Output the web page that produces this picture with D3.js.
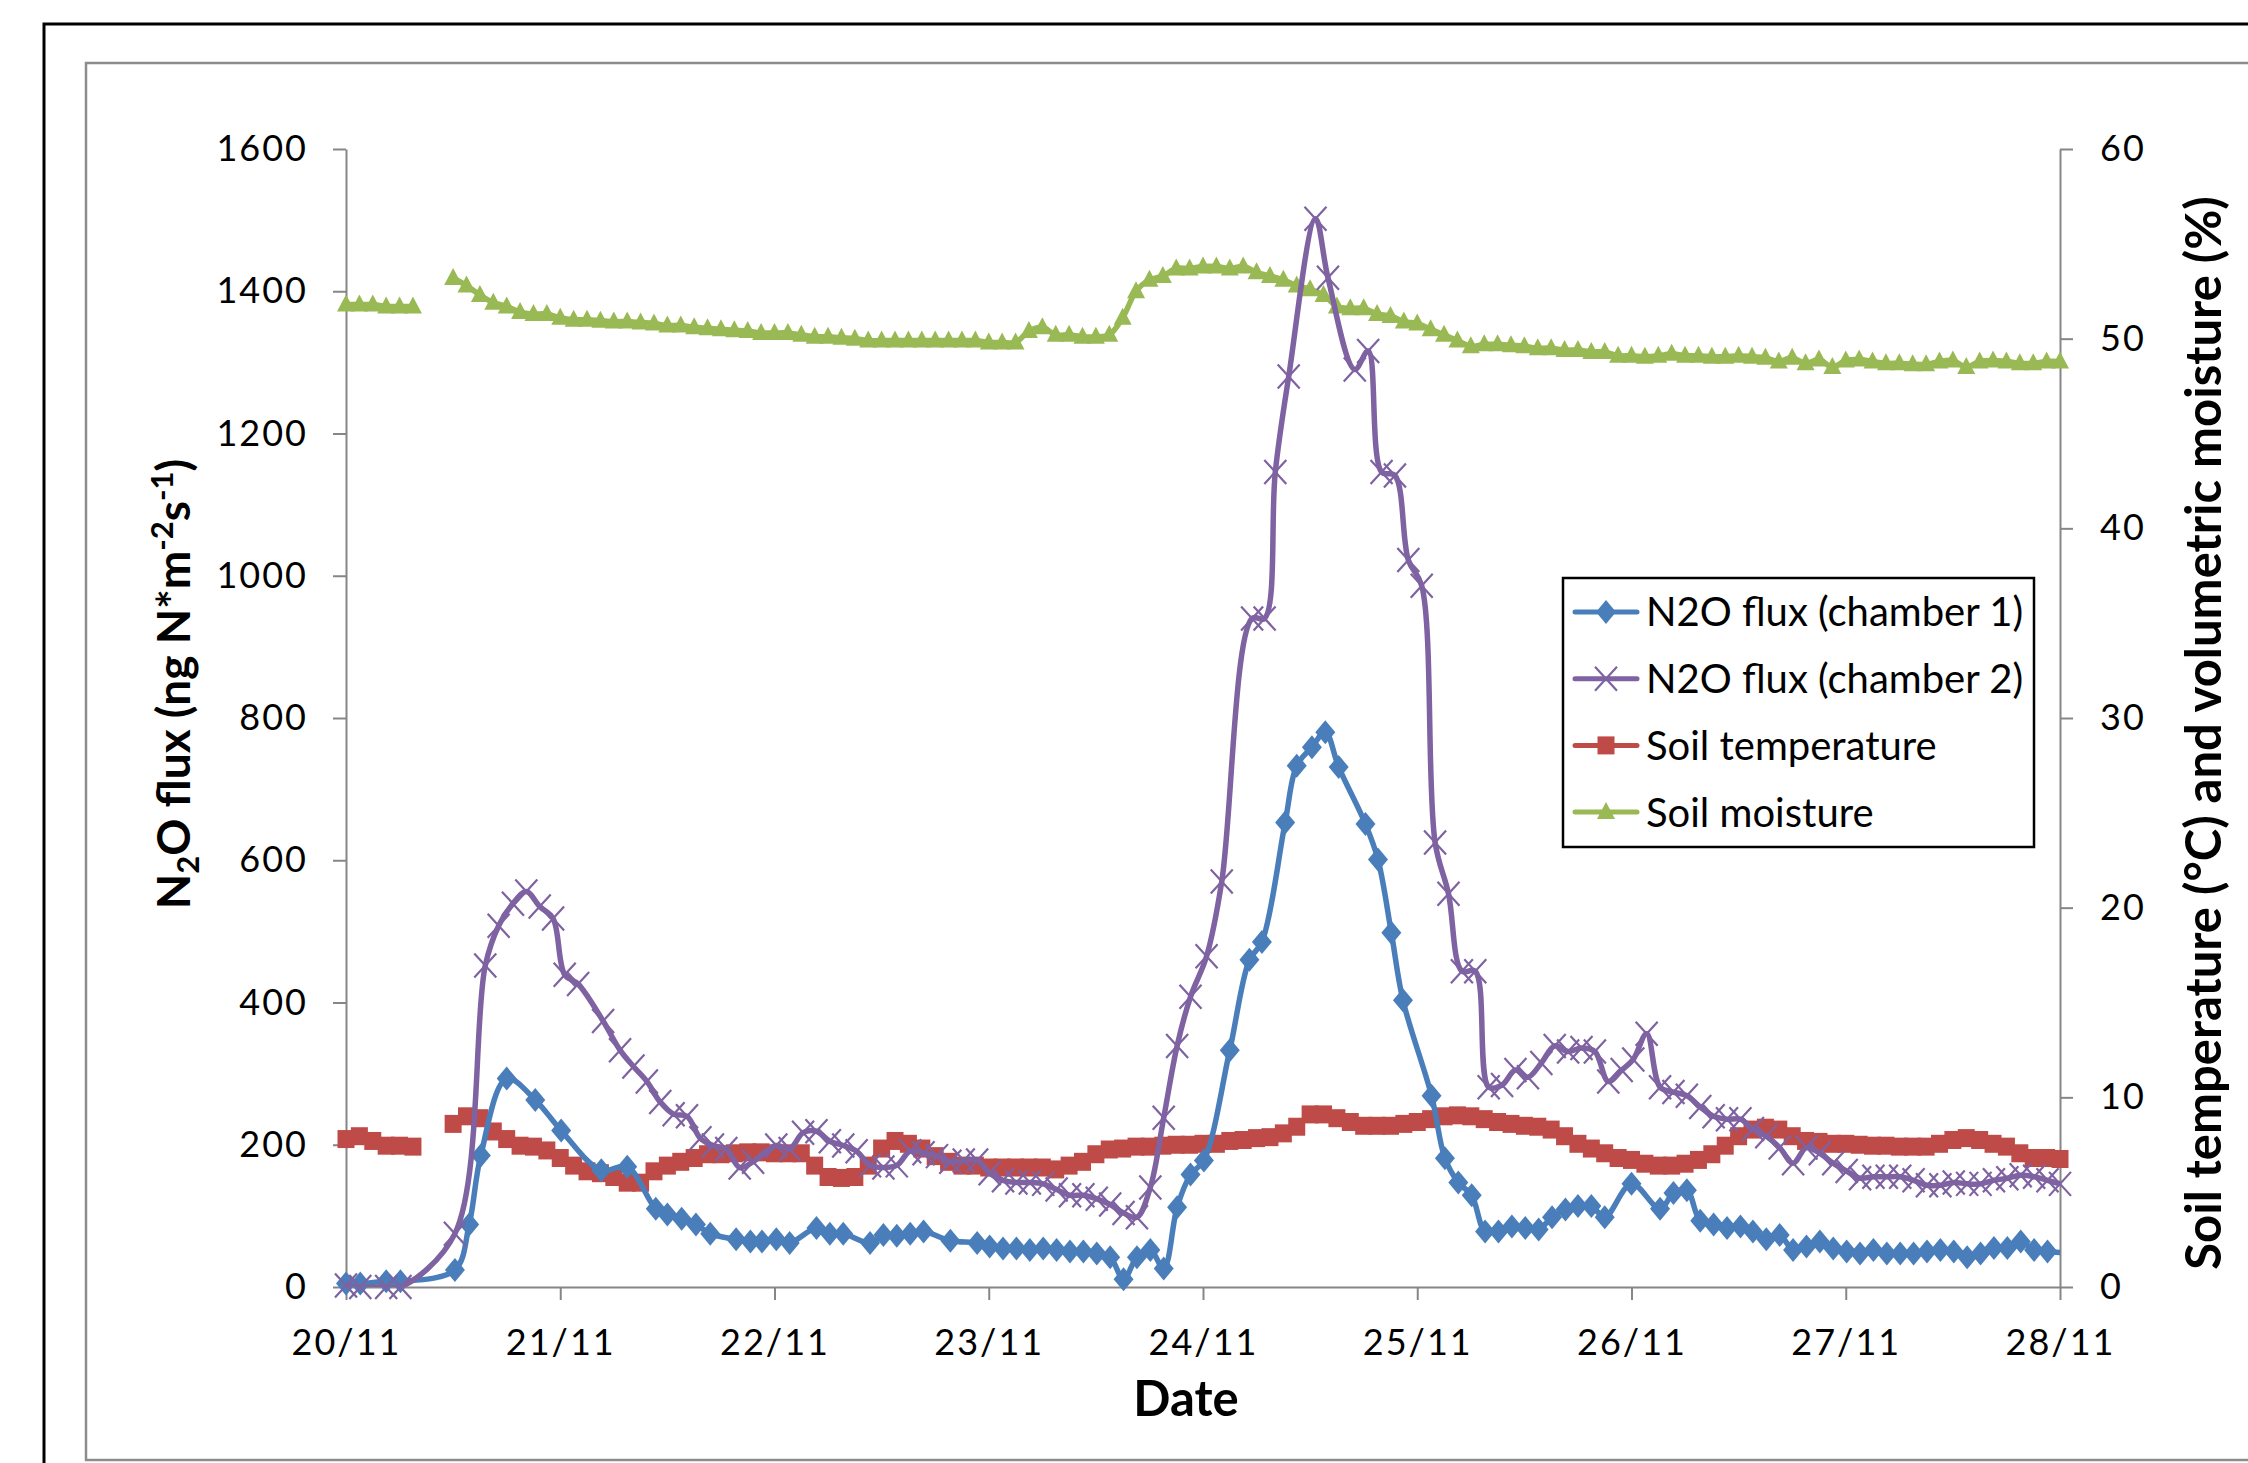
<!DOCTYPE html>
<html>
<head>
<meta charset="utf-8">
<script src="https://cdnjs.cloudflare.com/ajax/libs/d3/7.8.5/d3.min.js"></script>
<style>
  body { margin: 0; background: #fff; }
  svg { display: block; }
  text { font-family: Lato, 'Open Sans', sans-serif; }
</style>
</head>
<body>
<div id="chart"></div>
<script>
// tick labels
const dayLabels = ['20/11', '21/11', '22/11', '23/11', '24/11', '25/11', '26/11', '27/11', '28/11'];
const fluxTicks = [0, 200, 400, 600, 800, 1000, 1200, 1400, 1600];
const soilTicks = [0, 10, 20, 30, 40, 50, 60];

// N2O flux, chamber 1 (hours since 20/11 00:00, ng N m-2 s-1)
const chamber1Hours = [0, 1.6, 4.5, 6.1, 12.2, 13.8, 15.1, 18.0, 21.2, 24.1, 28.6, 31.5, 34.7, 36.0, 37.6, 39.2, 40.8,
  43.7, 45.3, 46.6, 48.2, 49.7, 52.7, 54.2, 55.7, 58.7, 60.2, 61.7, 63.2, 64.7, 67.7, 70.7, 72.1, 73.6, 75.1, 76.6,
  78.1, 79.6, 81.1, 82.6, 84.1, 85.6, 87.1, 88.6, 90.1, 91.6, 93.1, 94.6, 96.1, 99.0, 101.2, 102.6, 105.2, 106.5,
  108.2, 109.7, 111.2, 114.2, 115.6, 117.1, 118.4, 121.6, 123.1, 124.6, 126.1, 127.6, 129.1, 130.6, 132.1, 133.6,
  135.1, 136.6, 138.0, 139.5, 141.0, 144.0, 147.2, 148.7, 150.2, 151.7, 153.2, 154.7, 156.2, 157.6, 159.1, 160.6,
  162.1, 163.6, 165.1, 166.6, 168.1, 169.6, 171.1, 172.6, 174.1, 175.6, 177.1, 178.6, 180.1, 181.6, 183.1, 184.6,
  186.1, 187.6, 189.1, 190.6, 193.5];
const chamber1Flux = [5, 5, 8, 8, 24, 88, 185, 293, 263, 220, 164, 169, 110, 102, 96, 88, 75,
  67, 64, 64, 67, 62, 83, 75, 75, 62, 73, 72, 75, 78, 65, 62, 57, 54, 54, 52,
  54, 52, 50, 50, 47, 42, 11, 42, 52, 26, 112, 158, 178, 333, 460, 485, 653, 733,
  759, 780, 731, 651, 601, 498, 403, 269, 181, 147, 129, 78, 78, 85, 83, 81,
  98, 109, 114, 114, 98, 145, 110, 132, 136, 93, 88, 83, 85, 78, 67, 73,
  52, 57, 64, 54, 50, 47, 52, 47, 47, 47, 50, 52, 50, 42, 47, 55,
  55, 64, 52, 50, 47];

// N2O flux, chamber 2
const chamber2Hours = [0, 1.6, 4.5, 6.1, 12.2, 15.6, 17.1, 18.7, 20.2, 21.7, 23.2, 24.5, 26.0, 28.8, 30.7, 32.2,
  33.7, 35.2, 36.7, 38.2, 39.7, 41.1, 42.6, 44.1, 45.6, 48.2, 49.7, 51.2, 52.7, 54.2, 55.7, 57.2, 58.7, 60.2,
  61.7, 63.2, 64.7, 66.2, 67.7, 69.2, 70.7, 72.1, 73.6, 75.1, 76.6, 78.1, 79.6, 81.1, 82.6, 84.1, 85.6, 87.1,
  88.6, 90.1, 91.6, 93.1, 94.6, 96.4, 98.1, 101.5, 102.9, 104.1, 105.6, 108.6, 110.0, 113.0, 114.5, 116.0,
  117.5, 119.0, 120.5, 122.0, 123.5, 125.0, 126.5, 128.0, 129.5, 131.0, 132.4, 133.9, 135.4, 136.9, 138.4,
  139.9, 141.4, 142.9, 144.2, 145.7, 147.2, 148.7, 150.2, 151.7, 153.2, 154.7, 156.2, 157.6, 159.1, 160.6,
  162.1, 163.6, 165.1, 166.6, 168.1, 169.6, 171.1, 172.6, 174.1, 175.6, 177.1, 178.6, 180.1, 181.6, 183.1,
  184.6, 186.1, 187.6, 189.1, 190.6, 192.0];
const chamber2Flux = [2, 0, 0, 0, 75, 452, 508, 539, 556, 535, 518, 439, 426, 374, 333, 310,
  289, 260, 243, 240, 209, 199, 194, 168, 176, 199, 194, 217, 219, 205, 199, 191, 171, 168,
  171, 191, 188, 184, 176, 178, 178, 160, 150, 147, 147, 145, 137, 129, 129, 124, 116, 104,
  98, 140, 238, 339, 408, 465, 570, 940, 940, 1146, 1280, 1502, 1419, 1290, 1316, 1146,
  1141, 1022, 986, 625, 553, 444, 444, 281, 284, 305, 295, 315, 339, 331, 336,
  331, 289, 305, 320, 356, 281, 274, 269, 253, 240, 236, 236, 222, 212, 196,
  174, 196, 188, 174, 163, 153, 155, 155, 155, 150, 143, 143, 147, 145, 145,
  150, 153, 157, 155, 150, 145];

// soil logger, one reading every 1.5 h from 20/11 00:00
const soilStepHours = 1.5;
const soilTemperature = [7.8, 7.95, 7.7, 7.45, 7.45, 7.4, null, null, 8.6, 9.0, 8.9, 8.2, 7.8, 7.45, 7.4, 7.2,
  6.8, 6.4, 6.1, 6.0, 5.8, 5.5, 5.5, 6.1, 6.4, 6.6, 6.8, 7.0, 7.0, 7.05, 7.1, 7.1,
  7.05, 7.05, 7.05, 6.4, 5.8, 5.75, 5.8, 6.4, 7.3, 7.7, 7.55, 7.3, 6.9, 6.6, 6.4, 6.4,
  6.3, 6.3, 6.3, 6.3, 6.3, 6.2, 6.4, 6.6, 7.0, 7.25, 7.3, 7.4, 7.4, 7.45, 7.5, 7.5,
  7.55, 7.55, 7.7, 7.75, 7.85, 7.9, 8.1, 8.45, 9.1, 9.1, 8.9, 8.7, 8.5, 8.5, 8.5, 8.6,
  8.7, 8.85, 9.0, 9.05, 9.0, 8.85, 8.7, 8.6, 8.5, 8.45, 8.3, 7.95, 7.55, 7.3, 7.05, 6.8,
  6.7, 6.5, 6.4, 6.4, 6.5, 6.7, 7.0, 7.45, 7.95, 8.3, 8.4, 8.3, 7.95, 7.7, 7.65, 7.55,
  7.55, 7.5, 7.45, 7.45, 7.4, 7.4, 7.4, 7.55, 7.75, 7.85, 7.75, 7.55, 7.4, 7.05, 6.8, 6.8,
  6.75];
const soilMoisture = [51.8, 51.8, 51.8, 51.7, 51.7, 51.7, null, null, 53.2, 52.8, 52.3, 51.9, 51.7, 51.4, 51.3, 51.3,
  51.1, 51.0, 51.0, 50.95, 50.9, 50.9, 50.85, 50.8, 50.7, 50.7, 50.6, 50.55, 50.5, 50.45, 50.4, 50.3,
  50.3, 50.3, 50.2, 50.1, 50.1, 50.05, 50.0, 49.9, 49.9, 49.9, 49.9, 49.9, 49.9, 49.9, 49.9, 49.9,
  49.8, 49.8, 49.8, 50.4, 50.6, 50.2, 50.2, 50.1, 50.1, 50.2, 51.1, 52.5, 53.1, 53.3, 53.7, 53.7,
  53.8, 53.8, 53.7, 53.8, 53.5, 53.3, 53.1, 52.8, 52.6, 52.3, 51.7, 51.6, 51.6, 51.3, 51.2, 50.9,
  50.8, 50.5, 50.2, 49.9, 49.6, 49.7, 49.7, 49.65, 49.6, 49.5, 49.5, 49.4, 49.4, 49.3, 49.3, 49.1,
  49.1, 49.05, 49.1, 49.2, 49.1, 49.1, 49.05, 49.05, 49.1, 49.05, 49.0, 48.8, 49.0, 48.7, 48.9, 48.5,
  48.85, 48.9, 48.8, 48.7, 48.7, 48.65, 48.65, 48.8, 48.85, 48.5, 48.8, 48.85, 48.8, 48.7, 48.7, 48.8,
  48.8];

const width = 2248;
const height = 1463;
const plot = { left: 346, right: 2060, top: 149, bottom: 1287 };
const axisColor = '#868686';
const lastHour = 192;

const svg = d3.select('#chart')
  .append('svg')
  .attr('width', width)
  .attr('height', height);

// outer frames (both run off the right and bottom edge)
svg.append('rect')
  .attr('x', 44).attr('y', 24).attr('width', 2400).attr('height', 1600)
  .attr('fill', 'none').attr('stroke', '#000').attr('stroke-width', 3);
svg.append('rect')
  .attr('x', 86).attr('y', 63).attr('width', 2400).attr('height', 1397)
  .attr('fill', 'none').attr('stroke', '#8c8c8c').attr('stroke-width', 2.5);

const x = d3.scaleLinear().domain([0, lastHour]).range([plot.left, plot.right]);
const yFlux = d3.scaleLinear().domain([0, 1600]).range([plot.bottom, plot.top]);
const ySoil = d3.scaleLinear().domain([0, 60]).range([plot.bottom, plot.top]);

function styleAxis(g) {
  g.attr('font-family', 'Lato, sans-serif').attr('font-size', 36);
  g.select('.domain').attr('stroke', axisColor).attr('stroke-width', 2);
  g.selectAll('.tick line').attr('stroke', axisColor).attr('stroke-width', 2);
  g.selectAll('.tick text').attr('fill', '#000').attr('letter-spacing', 2);
}

svg.append('g')
  .attr('transform', `translate(0,${plot.bottom})`)
  .call(d3.axisBottom(x)
    .tickValues(dayLabels.map((d, i) => i * 24))
    .tickFormat((d, i) => dayLabels[i])
    .tickSize(13).tickSizeOuter(0).tickPadding(29))
  .call(styleAxis);

svg.append('g')
  .attr('transform', `translate(${plot.left},0)`)
  .call(d3.axisLeft(yFlux).tickValues(fluxTicks).tickFormat(d3.format('d'))
    .tickSize(13).tickSizeOuter(0).tickPadding(25))
  .call(styleAxis);

svg.append('g')
  .attr('transform', `translate(${plot.right},0)`)
  .call(d3.axisRight(ySoil).tickValues(soilTicks).tickFormat(d3.format('d'))
    .tickSize(13).tickSizeOuter(0).tickPadding(27))
  .call(styleAxis);

// axis titles
svg.append('text')
  .attr('x', (plot.left + plot.right) / 2 - 17)
  .attr('y', 1416)
  .attr('text-anchor', 'middle')
  .attr('font-weight', 'bold')
  .attr('font-size', 49)
  .text('Date');

const yTitle = svg.append('text')
  .attr('transform', 'translate(190,684) rotate(-90)')
  .attr('text-anchor', 'middle')
  .attr('font-weight', 'bold')
  .attr('font-size', 46);
yTitle.append('tspan').text('N');
yTitle.append('tspan').attr('font-size', 31).attr('dy', 9).text('2');
yTitle.append('tspan').attr('dy', -9).text('O flux (ng N*m');
yTitle.append('tspan').attr('font-size', 31).attr('dy', -17).text('-2');
yTitle.append('tspan').attr('dy', 17).text('s');
yTitle.append('tspan').attr('font-size', 31).attr('dy', -17).text('-1');
yTitle.append('tspan').attr('dy', 17).text(')');

svg.append('text')
  .attr('transform', 'translate(2221,733) rotate(-90)')
  .attr('text-anchor', 'middle')
  .attr('font-weight', 'bold')
  .attr('font-size', 49)
  .text('Soil temperature (°C) and volumetric moisture (%)');

// marker shapes
const markerShapes = {
  diamond: () => 'M0,-12L10,0L0,12L-10,0Z',
  cross: () => 'M-11,-12L11,12M11,-12L-11,12',
  square: () => 'M-8.5,-9H8.5V9H-8.5Z',
  triangle: () => 'M0,-10L9,7H-9Z'
};

const series = [
  { name: 'Soil temperature', color: '#be4b48', marker: 'square', y: ySoil,
    points: soilTemperature.map((v, i) => ({ h: i * soilStepHours, v })) },
  { name: 'Soil moisture', color: '#98b954', marker: 'triangle', y: ySoil,
    points: soilMoisture.map((v, i) => ({ h: i * soilStepHours, v })) },
  { name: 'N2O flux (chamber 1)', color: '#4a7ebb', marker: 'diamond', y: yFlux,
    points: chamber1Hours.map((h, i) => ({ h, v: chamber1Flux[i] })) },
  { name: 'N2O flux (chamber 2)', color: '#7e62a1', marker: 'cross', y: yFlux,
    points: chamber2Hours.map((h, i) => ({ h, v: chamber2Flux[i] })) }
];

svg.append('clipPath').attr('id', 'plot-clip')
  .append('rect')
  .attr('x', plot.left).attr('y', 0)
  .attr('width', plot.right - plot.left).attr('height', plot.bottom);

series.forEach((s) => {
  const line = d3.line()
    .defined((d) => d.v != null)
    .x((d) => x(d.h))
    .y((d) => s.y(d.v))
    .curve(d3.curveCatmullRom.alpha(0.5));

  svg.append('path')
    .datum(s.points)
    .attr('clip-path', 'url(#plot-clip)')
    .attr('fill', 'none')
    .attr('stroke', s.color)
    .attr('stroke-width', 5.5)
    .attr('stroke-linejoin', 'round')
    .attr('d', line);

  const shown = s.points.filter((d) => d.v != null && d.h <= lastHour);
  const marks = svg.append('g')
    .selectAll('path')
    .data(shown)
    .join('path')
    .attr('transform', (d) => `translate(${x(d.h)},${s.y(d.v)})`)
    .attr('d', markerShapes[s.marker]());
  if (s.marker === 'cross') {
    marks.attr('fill', 'none').attr('stroke', s.color).attr('stroke-width', 2.2);
  } else {
    marks.attr('fill', s.color);
  }
});

// legend
const legendOrder = ['N2O flux (chamber 1)', 'N2O flux (chamber 2)', 'Soil temperature', 'Soil moisture'];
const legend = svg.append('g').attr('transform', 'translate(1563,578)');
legend.append('rect')
  .attr('width', 471).attr('height', 269)
  .attr('fill', '#fff').attr('stroke', '#000').attr('stroke-width', 2.5);

legendOrder.forEach((name, i) => {
  const s = series.find((d) => d.name === name);
  const row = legend.append('g').attr('transform', `translate(0,${34 + i * 66.7})`);
  row.append('line')
    .attr('x1', 12).attr('x2', 74)
    .attr('stroke', s.color).attr('stroke-width', 5).attr('stroke-linecap', 'round');
  const m = row.append('path').attr('transform', 'translate(43,0)').attr('d', markerShapes[s.marker]());
  if (s.marker === 'cross') {
    m.attr('fill', 'none').attr('stroke', s.color).attr('stroke-width', 2.2);
  } else {
    m.attr('fill', s.color);
  }
  row.append('text')
    .attr('x', 83).attr('dy', '0.36em')
    .attr('font-size', 40)
    .text(name);
});
</script>
</body>
</html>
